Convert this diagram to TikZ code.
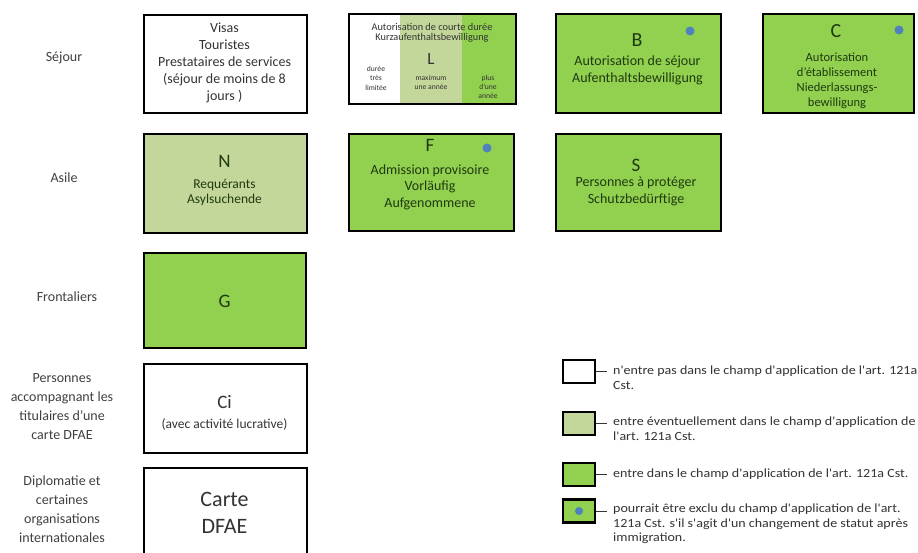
\documentclass[tikz,border=0pt]{standalone}
\usepackage{fontspec}
\setmainfont{Carlito}
\newfontfamily\legfont{Carlito}[FakeStretch=1.12]
\definecolor{vgreen}{HTML}{92D050}
\definecolor{lgreen}{HTML}{C4D79B}
\definecolor{dotblue}{HTML}{4F81BD}
\definecolor{gtext}{HTML}{1F3A0F}
\definecolor{ltext}{HTML}{404040}
\definecolor{wtext}{HTML}{333333}
\newcommand{\myfs}[2]{\fontsize{#1}{#2}\selectfont}
\begin{document}
\begin{tikzpicture}[x=1pt,y=-1pt,
  box/.style={draw=black, line width=1.9pt, anchor=north west, inner sep=0pt},
  lab/.style={text=ltext, align=center, font=\myfs{14}{19}},
  wtx/.style={text=wtext, align=center, inner sep=0pt},
  gtx/.style={text=gtext, align=center, inner sep=0pt},
  dot/.style={circle, fill=dotblue, minimum size=9pt, inner sep=0pt},
  legbox/.style={draw=black, line width=2.2pt, minimum width=32pt, minimum height=23pt, inner sep=0pt},
  legtxt/.style={text=wtext, align=left, anchor=north west, inner sep=0pt, font=\legfont\myfs{12.5}{14.5}},
  legline/.style={draw=wtext, line width=0.9pt}]
\clip (0,0) rectangle (918,552);
\fill[white] (0,0) rectangle (918,552);

% ---- left labels
\node[lab] (lsej) at (64,58) {Séjour};
\node[lab] (lasi) at (64,178) {Asile};
\node[lab] (lfro) at (67,297) {Frontaliers};
\node[lab] (lper) at (62,407) {Personnes\\accompagnant les\\titulaires d'une\\carte DFAE};
\node[lab] (ldip) at (62,509) {Diplomatie et\\certaines\\organisations\\internationales};

% ---- row Séjour
\node[box, fill=white, minimum width=163pt, minimum height=98pt] (visa) at (143,14) {};
\node[wtx, font=\myfs{14}{17}] (visat) at (224.5,63) {Visas\\Touristes\\Prestataires de services\\(séjour de moins de 8\\jours )};

\fill[lgreen] (400,13) rectangle (462,103);
\fill[vgreen] (462,13) rectangle (515,103);
\node[box, minimum width=167pt, minimum height=90pt] (Lbox) at (348,13) {};
\node[wtx, font=\myfs{10.3}{10.5}] (Lt) at (432,33) {Autorisation de courte durée\\Kurzaufenthaltsbewilligung};
\node[wtx, font=\myfs{17}{17}] (Ll) at (431,59) {L};
\node[wtx, font=\myfs{7.6}{9.5}] (Lc1) at (376,78) {durée\\très\\limitée};
\node[wtx, font=\myfs{7.6}{9.5}] (Lc2) at (431,82.5) {maximum\\une année};
\node[wtx, font=\myfs{7.6}{9}] (Lc3) at (488,86.5) {plus\\d'une\\année};

\node[box, fill=vgreen, minimum width=165pt, minimum height=99pt] (Bbox) at (555,13) {};
\node[gtx, font=\myfs{20}{20}] (Bl) at (637,40) {B};
\node[gtx, font=\myfs{14}{17}] (Bt) at (637.5,70) {Autorisation de séjour\\Aufenthaltsbewilligung};
\node[dot] (Bd) at (690,31) {};

\node[box, fill=vgreen, minimum width=151pt, minimum height=99pt] (Cbox) at (762,13) {};
\node[gtx, font=\myfs{20}{20}] (Cl) at (836,31) {C};
\node[gtx, font=\myfs{12.5}{15}] (Ct) at (837,81) {Autorisation\\d'établissement\\Niederlassungs-\\bewilligung};
\node[dot] (Cd) at (899,30) {};

% ---- row Asile
\node[box, fill=lgreen, minimum width=163pt, minimum height=99pt] (Nbox) at (143,133) {};
\node[gtx, font=\myfs{19}{19}] (Nl) at (224.5,161) {N};
\node[gtx, font=\myfs{13.5}{15}] (Nt) at (224.5,192) {Requérants\\Asylsuchende};

\node[box, fill=vgreen, minimum width=165pt, minimum height=97pt] (Fbox) at (348,133) {};
\node[gtx, font=\myfs{19}{19}] (Fl) at (430,145) {F};
\node[gtx, font=\myfs{14}{16.5}] (Ft) at (430,187) {Admission provisoire\\Vorläufig\\Aufgenommene};
\node[dot] (Fd) at (487,148) {};

\node[box, fill=vgreen, minimum width=165pt, minimum height=97pt] (Sbox) at (555,133) {};
\node[gtx, font=\myfs{19}{19}] (Sl) at (636,165) {S};
\node[gtx, font=\myfs{14}{17}] (St) at (636,191.5) {Personnes à protéger\\Schutzbedürftige};

% ---- Frontaliers
\node[box, fill=vgreen, minimum width=162pt, minimum height=95pt] (Gbox) at (143,252) {};
\node[gtx, font=\myfs{19}{19}] (Gl) at (224.5,301) {G};

% ---- Ci
\node[box, fill=white, minimum width=163pt, minimum height=89pt] (Cibox) at (143,363) {};
\node[wtx, font=\myfs{19}{19}] (Cil) at (224.5,402) {Ci};
\node[wtx, font=\myfs{13.5}{15}] (Cit) at (224.5,424) {(avec activité lucrative)};

% ---- Carte DFAE
\node[box, fill=white, minimum width=163pt, minimum height=100pt] (Dbox) at (143,467) {};
\node[wtx, font=\myfs{22}{27}] (Dt) at (224.5,513) {Carte\\DFAE};

% ---- legend
\node[legbox, fill=white] (g1) at (579,371.5) {};
\node[legbox, fill=lgreen] (g2) at (579,423.5) {};
\node[legbox, fill=vgreen] (g3) at (579,474.5) {};
\node[legbox, fill=vgreen] (g4) at (579,511) {};
\node[dot, minimum size=8pt] (g4d) at (579,511) {};

\coordinate (e1) at (607,371.5);
\coordinate (e2) at (607,423.5);
\coordinate (e3) at (607,474.5);
\coordinate (e4) at (607,511);
\draw[legline] (g1.east) -- (e1);
\draw[legline] (g2.east) -- (e2);
\draw[legline] (g3.east) -- (e3);
\draw[legline] (g4.east) -- (e4);

\node[legtxt] (t1) at (613,366) {n'entre pas dans le champ d'application de l'art. 121a\\Cst.};
\node[legtxt] (t2) at (613,417) {entre éventuellement dans le champ d'application de\\l'art. 121a Cst.};
\node[legtxt] (t3) at (613,468.5) {entre dans le champ d'application de l'art. 121a Cst.};
\node[legtxt] (t4) at (613,504) {pourrait être exclu du champ d'application de l'art.\\121a Cst. s'il s'agit d'un changement de statut après\\immigration.};
\end{tikzpicture}
\end{document}
